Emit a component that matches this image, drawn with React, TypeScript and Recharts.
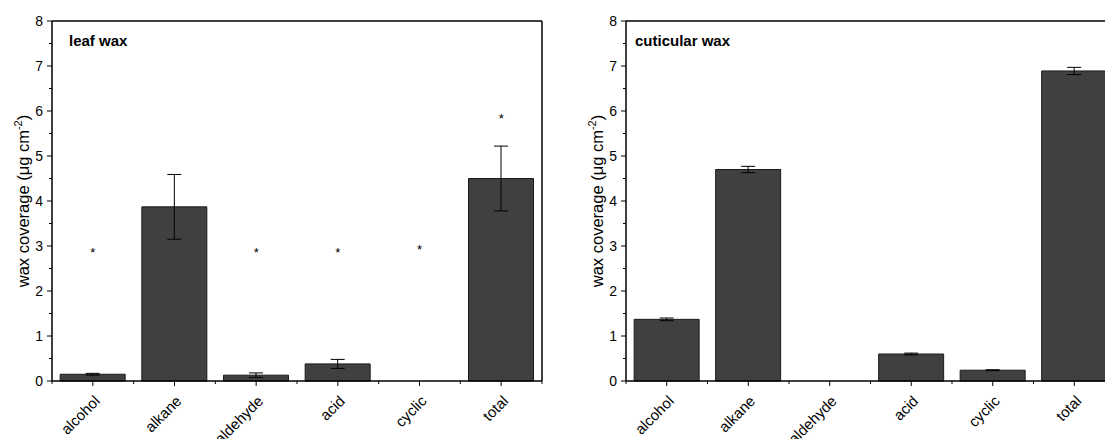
import { ComposedChart, Bar, ErrorBar, Scatter, XAxis, YAxis, ReferenceLine } from "recharts";

const categories = ["alcohol", "alkane", "aldehyde", "acid", "cyclic", "total"];

const leafValues = [0.15, 3.87, 0.13, 0.38, 0, 4.5];
const leafErrors = [0.02, 0.72, 0.05, 0.1, 0, 0.72];
const leafStars = [2.91, null, 2.91, 2.91, 2.97, 5.9];

const cuticularValues = [1.37, 4.7, 0, 0.6, 0.24, 6.89];
const cuticularErrors = [0.03, 0.07, 0, 0.02, 0.01, 0.08];

const yMajorTicks = [0, 1, 2, 3, 4, 5, 6, 7, 8];
const yMinorTicks = [0.5, 1.5, 2.5, 3.5, 4.5, 5.5, 6.5, 7.5];

const FONT = "Arial, 'Liberation Sans', sans-serif";

function buildRows(values: number[], errors: number[], stars: (number | null)[]) {
  return categories.map((c, i) => ({
    name: c,
    value: values[i],
    err: errors[i],
    star: stars[i],
  }));
}

const StarShape = (props: any) => {
  const { cx, cy } = props;
  if (cx == null || cy == null) return null;
  return (
    <text x={cx} y={cy + 7} textAnchor="middle" fontSize={13} fontFamily={FONT} fill="#000">
      *
    </text>
  );
};

// category label plus major tick, and minor ticks at band edges
const XTick = (props: any) => {
  const { x, y, payload, index, halfBand } = props;
  const lx = x + 8;
  const ly = y + 21;
  return (
    <g>
      <line x1={x} y1={y} x2={x} y2={y + 5} stroke="#000" />
      {index === 0 && <line x1={x - halfBand} y1={y} x2={x - halfBand} y2={y + 3} stroke="#000" />}
      <line x1={x + halfBand} y1={y} x2={x + halfBand} y2={y + 3} stroke="#000" />
      <text
        x={lx}
        y={ly}
        textAnchor="end"
        fontSize={15}
        fontFamily={FONT}
        fill="#000"
        transform={`rotate(-45, ${lx}, ${ly})`}
      >
        {payload.value}
      </text>
    </g>
  );
};

const YTick = (props: any) => {
  const { x, y, payload } = props;
  const major = yMajorTicks.includes(payload.value);
  const len = major ? 5 : 3;
  return (
    <g>
      <line x1={x - len} y1={y} x2={x} y2={y} stroke="#000" />
      {major && (
        <text x={x - 9} y={y + 5} textAnchor="end" fontSize={14} fontFamily={FONT} fill="#000">
          {payload.value}
        </text>
      )}
    </g>
  );
};

const YLabel = (props: any) => {
  const { viewBox } = props;
  const cx = viewBox.x + viewBox.width - 23;
  const cy = viewBox.y + viewBox.height / 2;
  return (
    <text
      x={cx}
      y={cy}
      textAnchor="middle"
      fontSize={16.5}
      fontFamily={FONT}
      fill="#000"
      transform={`rotate(-90, ${cx}, ${cy})`}
    >
      wax coverage (μg cm
      <tspan dy={-7} fontSize={11}>
        -2
      </tspan>
      <tspan dy={7}>)</tspan>
    </text>
  );
};

function WaxPanel({
  rows,
  width,
  left,
  showStars,
}: {
  rows: any[];
  width: number;
  left: number;
  showStars: boolean;
}) {
  const plotW = width - left - 18;
  const halfBand = plotW / categories.length / 2;
  return (
    <ComposedChart
      width={width}
      height={439}
      data={rows}
      margin={{ top: 21, right: 17, bottom: 0, left: left - 40 }}
      barCategoryGap="10%"
    >
      <XAxis
        dataKey="name"
        type="category"
        height={58}
        interval={0}
        tick={<XTick halfBand={halfBand} />}
        tickSize={0}
        tickMargin={0}
        tickLine={false}
        axisLine={{ stroke: "#000", strokeWidth: 1.5 }}
      />
      <YAxis
        domain={[0, 8]}
        ticks={[...yMajorTicks, ...yMinorTicks].sort((a, b) => a - b)}
        interval={0}
        width={40}
        tick={<YTick />}
        tickSize={0}
        tickMargin={0}
        tickLine={false}
        axisLine={{ stroke: "#000", strokeWidth: 1.5 }}
        label={<YLabel />}
      />
      <YAxis
        yAxisId="right"
        orientation="right"
        domain={[0, 8]}
        width={1}
        tick={false}
        tickLine={false}
        axisLine={{ stroke: "#000", strokeWidth: 1.5 }}
      />
      <ReferenceLine y={8} stroke="#000" strokeWidth={1.5} />
      <Bar
        dataKey="value"
        fill="#404040"
        stroke="#1a1a1a"
        strokeWidth={1}
        isAnimationActive={false}
      >
        <ErrorBar dataKey="err" width={7} stroke="#000" strokeWidth={1} />
      </Bar>
      {showStars && (
        <Scatter dataKey="star" shape={<StarShape />} isAnimationActive={false} />
      )}
    </ComposedChart>
  );
}

export default function App() {
  const leafRows = buildRows(leafValues, leafErrors, leafStars);
  const cutRows = buildRows(cuticularValues, cuticularErrors, categories.map(() => null));
  return (
    <div
      style={{
        position: "absolute",
        left: 0,
        top: 0,
        width: 1105,
        height: 439,
        overflow: "hidden",
        background: "#fff",
      }}
    >
      <div style={{ position: "absolute", left: 0, top: 0 }}>
        <WaxPanel rows={leafRows} width={560} left={52} showStars />
      </div>
      <div style={{ position: "absolute", left: 560, top: 0 }}>
        <WaxPanel rows={cutRows} width={573} left={66} showStars={false} />
      </div>
      <div
        style={{
          position: "absolute",
          left: 69,
          top: 32,
          fontFamily: FONT,
          fontWeight: "bold",
          fontSize: 15,
        }}
      >
        leaf wax
      </div>
      <div
        style={{
          position: "absolute",
          left: 635,
          top: 32,
          fontFamily: FONT,
          fontWeight: "bold",
          fontSize: 15,
        }}
      >
        cuticular wax
      </div>
    </div>
  );
}
